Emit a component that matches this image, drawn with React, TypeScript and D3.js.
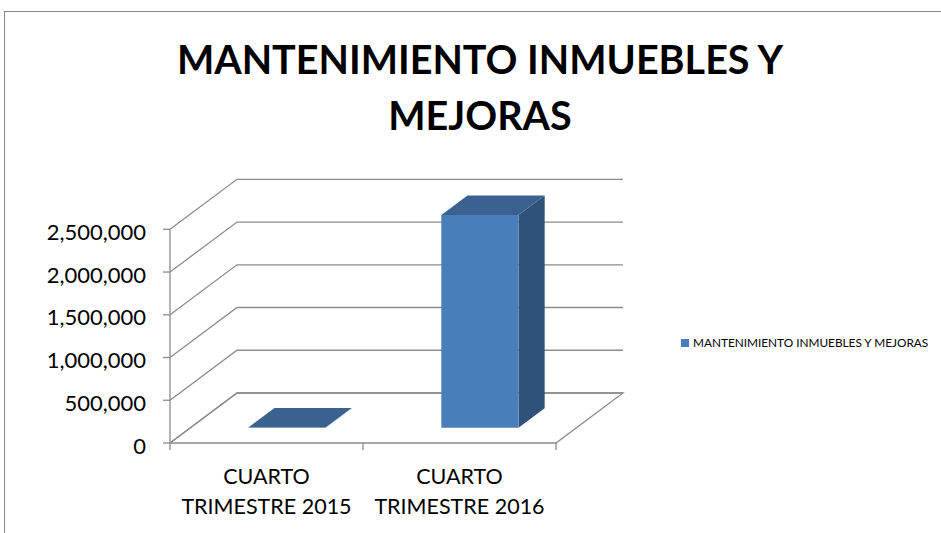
import React from "react";
import * as d3 from "d3";

const categories = ["CUARTO TRIMESTRE 2015", "CUARTO TRIMESTRE 2016"];
const categoryLines = [["CUARTO", "TRIMESTRE 2015"], ["CUARTO", "TRIMESTRE 2016"]];
const seriesName = "MANTENIMIENTO INMUEBLES Y MEJORAS";
const values = [2000, 2490000];
const yTicks = [0, 500000, 1000000, 1500000, 2000000, 2500000];
const titleLines = ["MANTENIMIENTO INMUEBLES Y", "MEJORAS"];

const W = 941;
const H = 533;
const FONT = "Lato, 'Open Sans', sans-serif";

export default function App() {
  const x0 = 170, x1 = 556;
  const yBottom = 443, yTop = 229.3;
  const DX = 67, DY = -50;
  const y = d3.scaleLinear().domain([0, 2500000]).range([yBottom, yTop]);
  const x = d3.scaleBand().domain(categories).range([x0, x1]).padding(0);
  const fmt = d3.format(",");
  const grid = "#8c8c8c";

  const P = (px: number, v: number, d: number): [number, number] => [px + d * DX, y(v) + d * DY];
  const poly = (pts: [number, number][]) => pts.map((p) => p.join(",")).join(" ");

  const bw = x.bandwidth() / 2.5;
  const dFront = 0.305, dBack = 0.695;

  return (
    <div style={{ position: "fixed", left: 0, top: 0 }}>
      <svg width={W} height={H} style={{ display: "block", background: "#fff" }}>
        <rect x={4.5} y={11.5} width={W + 10} height={H + 10} fill="#fff" stroke="#888" strokeWidth={1} />
        {/* title */}
        {titleLines.map((t, i) => (
          <text key={i} x={480} y={73.5 + i * 56} textAnchor="middle" fontFamily={FONT} fontWeight="bold" fontSize={39.5} fill="#000">
            {t}
          </text>
        ))}
        {/* floor */}
        <polyline points={poly([P(x0, 0, 0), P(x0, 0, 1), P(x1, 0, 1), P(x1, 0, 0), P(x0, 0, 0)])} fill="none" stroke={grid} strokeWidth={1.3} />
        {/* gridlines: left wall + back wall */}
        {yTicks.map((t) => (
          <polyline key={t} points={poly([P(x0, t, 0), P(x0, t, 1), P(x1, t, 1)])} fill="none" stroke={grid} strokeWidth={1.3} />
        ))}
        {/* front value axis */}
        <line x1={x0} x2={x0} y1={y(0)} y2={y(2500000)} stroke={grid} strokeWidth={1.3} />
        {yTicks.map((t) => (
          <g key={"t" + t}>
            <line x1={x0 - 7} x2={x0} y1={y(t)} y2={y(t)} stroke={grid} strokeWidth={1.3} />
            <text x={146} y={y(t) + 10.5} textAnchor="end" fontFamily={FONT} fontSize={22} fill="#000">
              {fmt(t)}
            </text>
          </g>
        ))}
        {/* category axis ticks */}
        {[x0, ...categories.map((c) => (x(c) as number) + x.bandwidth())].map((px, i) => (
          <line key={"c" + i} x1={px} x2={px} y1={yBottom} y2={yBottom + 7} stroke={grid} strokeWidth={1.3} />
        ))}
        {categoryLines.map((lines, i) => {
          const cx = (x(categories[i]) as number) + x.bandwidth() / 2;
          return lines.map((l, j) => (
            <text key={i + "-" + j} x={cx} y={483.5 + j * 30} textAnchor="middle" fontFamily={FONT} fontSize={21.5} fill="#000">
              {l}
            </text>
          ));
        })}
        {/* bars */}
        {categories.map((c, i) => {
          const cx = (x(c) as number) + x.bandwidth() / 2;
          const l = cx - bw / 2, r = cx + bw / 2;
          const v = values[i];
          const front = [P(l, 0, dFront), P(r, 0, dFront), P(r, v, dFront), P(l, v, dFront)] as [number, number][];
          const side = [P(r, 0, dFront), P(r, 0, dBack), P(r, v, dBack), P(r, v, dFront)] as [number, number][];
          const top = [P(l, v, dFront), P(r, v, dFront), P(r, v, dBack), P(l, v, dBack)] as [number, number][];
          return (
            <g key={c}>
              <polygon points={poly(side)} fill="#30527a" />
              <polygon points={poly(front)} fill="#4a7ebb" />
              <polygon points={poly(top)} fill="#3b6190" />
            </g>
          );
        })}
        {/* legend */}
        <rect x={681} y={339} width={8} height={8} fill="#4a7ebb" />
        <text x={693} y={347} fontFamily={FONT} fontSize={11.8} fill="#000">
          {seriesName}
        </text>
      </svg>
    </div>
  );
}
